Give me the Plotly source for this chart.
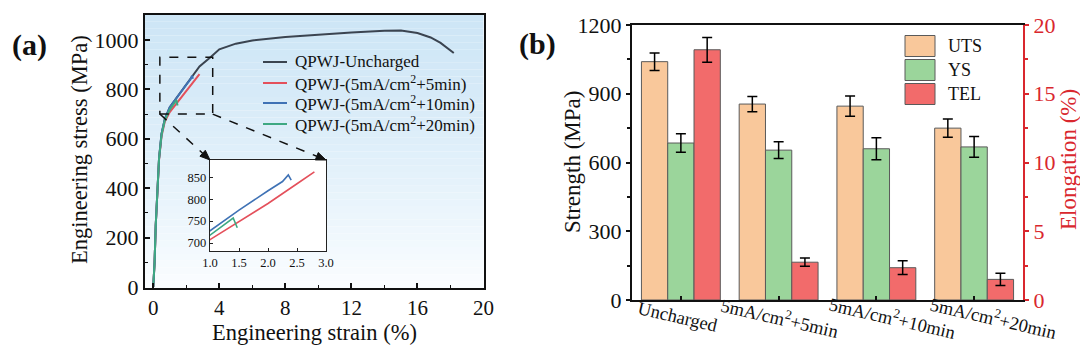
import math
import plotly.graph_objects as go

# ---------------- Panel (a) data: engineering stress-strain ----------------
strain_unch = [0, 0.08, 0.15, 0.25, 0.35, 0.5, 0.7, 1.0, 1.5, 2.0, 2.4, 2.8, 3.5, 4.0,
               5.0, 6.0, 8.0, 10.0, 12.0, 14.0, 15.0, 16.0, 16.8, 17.4, 18.2]
stress_unch = [0, 100, 250, 400, 520, 620, 680, 728, 775, 820, 858, 893, 932, 962,
               985, 998, 1012, 1022, 1030, 1037, 1038, 1028, 1010, 988, 947]

strain_5min = [0, 0.08, 0.15, 0.25, 0.35, 0.5, 0.7, 1.0, 1.5, 2.0, 2.5, 2.8]
stress_5min = [0, 100, 250, 400, 515, 610, 670, 708, 750, 790, 835, 862]

strain_10min = [0, 0.08, 0.15, 0.25, 0.35, 0.5, 0.7, 1.0, 1.5, 2.0, 2.25, 2.35, 2.4]
stress_10min = [0, 100, 250, 400, 520, 620, 680, 728, 775, 819, 840, 855, 843]

strain_20min = [0, 0.08, 0.15, 0.25, 0.35, 0.5, 0.7, 1.0, 1.2, 1.4, 1.47]
stress_20min = [0, 100, 250, 400, 520, 615, 675, 718, 738, 757, 735]

legend_a = ["QPWJ-Uncharged", "QPWJ-(5mA/cm<sup>2</sup>+5min)",
            "QPWJ-(5mA/cm<sup>2</sup>+10min)", "QPWJ-(5mA/cm<sup>2</sup>+20min)"]
colors_a = ["#3b4450", "#e4505b", "#3f72b5", "#3ea882"]

# ---------------- Panel (b) data: strength / elongation ----------------
categories = ["Uncharged", "5mA/cm<sup>2</sup>+5min",
              "5mA/cm<sup>2</sup>+10min", "5mA/cm<sup>2</sup>+20min"]
uts = [1040, 855, 846, 750]
uts_err = [38, 33, 44, 40]
ys = [685, 654, 660, 668]
ys_err = [40, 37, 48, 45]
tel = [18.2, 2.75, 2.35, 1.5]
tel_err = [0.9, 0.3, 0.5, 0.45]

W, H = 1080, 346
def px(v): return v / W
def py(v): return 1 - v / H

FONT = "Liberation Serif, Times New Roman, serif"
RED = "#d9272e"
INK = "#111"

# domains
ax_a = [px(145), px(483.5)]
ay_a = [py(288), py(15)]
xr_a = [-0.5, 20]
yr_a = [-4, 1101]
ax_in = [px(210), px(326)]
ay_in = [py(251), py(160)]
ax_b = [px(632), px(1023)]
ay_b = [py(300), py(25)]

fig = go.Figure()

series = [(strain_unch, stress_unch), (strain_5min, stress_5min),
          (strain_10min, stress_10min), (strain_20min, stress_20min)]
for (sx, sy), col in zip(series, colors_a):
    fig.add_trace(go.Scatter(x=sx, y=sy, mode="lines", line=dict(color=col, width=2),
                             xaxis="x", yaxis="y", showlegend=False))
for (sx, sy), col in list(zip(series, colors_a))[1:]:
    fig.add_trace(go.Scatter(x=sx, y=sy, mode="lines", line=dict(color=col, width=1.6),
                             xaxis="x2", yaxis="y2", showlegend=False))

# panel (b) bars
bw = 0.269
bar_line = dict(color="#5a5a5a", width=1)
err = dict(type="data", color="black", thickness=1.5, width=5)
fig.add_trace(go.Bar(x=categories, y=uts, width=bw, offset=-1.5 * bw,
                     marker=dict(color="#f9c89b", line=bar_line),
                     error_y=dict(err, array=uts_err),
                     xaxis="x3", yaxis="y3", showlegend=False))
fig.add_trace(go.Bar(x=categories, y=ys, width=bw, offset=-0.5 * bw,
                     marker=dict(color="#9bd59b", line=bar_line),
                     error_y=dict(err, array=ys_err),
                     xaxis="x3", yaxis="y3", showlegend=False))
fig.add_trace(go.Bar(x=categories, y=tel, width=bw, offset=0.5 * bw,
                     marker=dict(color="#f26b6b", line=bar_line),
                     error_y=dict(err, array=tel_err),
                     xaxis="x3", yaxis="y4", showlegend=False))

shapes = []
annotations = []

# gradient backgrounds (panel a and inset)
def gradient(xref, yref, top, bottom, n=40):
    for i in range(n):
        t = i / (n - 1)
        t2 = t ** 1.3
        c = [round(top[k] + (bottom[k] - top[k]) * t2) for k in range(3)]
        shapes.append(dict(type="rect", xref=xref, yref=yref, x0=0, x1=1,
                           y0=1 - (i + 1) / n, y1=1 - i / n, layer="below",
                           line=dict(width=0), fillcolor=f"rgb({c[0]},{c[1]},{c[2]})"))

gradient("x domain", "y domain", (206, 230, 246), (250, 253, 255))
gradient("x2 domain", "y2 domain", (210, 232, 247), (252, 254, 255), n=20)

# dashed zoom box
box = dict(x0=0.4, x1=3.6, y0=700, y1=930)
shapes.append(dict(type="rect", xref="x", yref="y", **box,
                   line=dict(color=INK, width=1.5, dash="dash")))

def to_paper(x, y):
    X = ax_a[0] + (x - xr_a[0]) / (xr_a[1] - xr_a[0]) * (ax_a[1] - ax_a[0])
    Y = ay_a[0] + (y - yr_a[0]) / (yr_a[1] - yr_a[0]) * (ay_a[1] - ay_a[0])
    return X, Y

# dashed connector arrows from zoom box to inset
for (bx, by), (ix, iy) in [((box["x0"], box["y0"]), (ax_in[0], ay_in[1])),
                           ((box["x1"], box["y0"]), (ax_in[1], ay_in[1]))]:
    X0, Y0 = to_paper(bx, by)
    # work in pixel space (y downwards)
    sx, sy = X0 * W, (1 - Y0) * H
    ex, ey = ix * W, (1 - iy) * H
    L = math.hypot(ex - sx, ey - sy)
    ux, uy = (ex - sx) / L, (ey - sy) / L
    hl, hw = 10, 4
    bxp, byp = ex - ux * hl, ey - uy * hl
    shapes.append(dict(type="line", xref="paper", yref="paper",
                       x0=px(sx), y0=py(sy), x1=px(bxp), y1=py(byp),
                       line=dict(color=INK, width=1.5, dash="dash")))
    p1 = (bxp - uy * hw, byp + ux * hw)
    p2 = (bxp + uy * hw, byp - ux * hw)
    path = (f"M {px(ex)} {py(ey)} L {px(p1[0])} {py(p1[1])} "
            f"L {px(p2[0])} {py(p2[1])} Z")
    shapes.append(dict(type="path", xref="paper", yref="paper", path=path,
                       fillcolor=INK, line=dict(color=INK, width=1)))

# legend (a)
leg_y = [62, 83, 103, 124]
for lab, col, yy in zip(legend_a, colors_a, leg_y):
    shapes.append(dict(type="line", xref="paper", yref="paper", x0=px(263), x1=px(287),
                       y0=py(yy), y1=py(yy), line=dict(color=col, width=2)))
    annotations.append(dict(x=px(293), y=py(yy), xref="paper", yref="paper", text=lab,
                            showarrow=False, xanchor="left", yanchor="middle",
                            font=dict(size=17, family=FONT, color=INK)))

# legend (b)
leg_b = [("UTS", "#f9c89b", 46), ("YS", "#9bd59b", 70), ("TEL", "#f26b6b", 94)]
for lab, col, yy in leg_b:
    shapes.append(dict(type="rect", xref="paper", yref="paper", x0=px(905), x1=px(935),
                       y0=py(yy + 10.5), y1=py(yy - 10.5), fillcolor=col,
                       line=dict(color="#5a5a5a", width=1)))
    annotations.append(dict(x=px(946), y=py(yy), xref="paper", yref="paper", text=lab,
                            showarrow=False, xanchor="left", yanchor="middle",
                            font=dict(size=18, family=FONT, color=INK)))

# rotated category labels (b)
label_shift = [-3, 1, 16, 19]
for i, c in enumerate(categories):
    annotations.append(dict(x=i, y=py(317), xref="x3", yref="paper", text=c, showarrow=False,
                            textangle=13, xanchor="center", yanchor="middle",
                            xshift=label_shift[i],
                            font=dict(size=18.5, family=FONT, color=INK)))

def label(x, y, text, size, angle=0, color=INK):
    return dict(x=px(x), y=py(y), xref="paper", yref="paper", text=text, showarrow=False,
                textangle=angle, xanchor="center", yanchor="middle",
                font=dict(size=size, family=FONT, color=color))

annotations += [
    label(29, 45, "<b>(a)</b>", 30),
    label(537, 44, "<b>(b)</b>", 30),
    label(80, 150, "Engineering stress (MPa)", 22.5, -90),
    label(314, 332, "Engineering strain (%)", 22.5),
    label(572, 162, "Strength (MPa)", 23, -90),
    label(1068, 160, "Elongation (%)", 23, -90, RED),
]

tick_font = dict(size=22, family=FONT, color=INK)

fig.update_layout(
    width=W, height=H, margin=dict(l=0, r=0, t=0, b=0, pad=0, autoexpand=False),
    paper_bgcolor="white", plot_bgcolor="white",
    font=dict(family=FONT, color=INK),
    barmode="overlay",
    xaxis=dict(domain=ax_a, range=xr_a, anchor="y", tickmode="linear", tick0=0, dtick=4,
               ticks="inside", ticklen=5, tickwidth=1.5, tickcolor=INK, automargin=False,
               minor=dict(ticks="inside", ticklen=3, tickwidth=1.2, dtick=2, tick0=0),
               showline=True, linewidth=2, linecolor=INK, mirror=True,
               showgrid=False, zeroline=False, tickfont=dict(size=21, family=FONT, color=INK)),
    yaxis=dict(domain=ay_a, range=yr_a, anchor="x", tickmode="linear", tick0=0, dtick=200,
               ticks="inside", ticklen=5, tickwidth=1.5, tickcolor=INK, automargin=False,
               minor=dict(ticks="inside", ticklen=3, tickwidth=1.2, dtick=100, tick0=0),
               showline=True, linewidth=2, linecolor=INK, mirror=True,
               showgrid=False, zeroline=False, tickfont=tick_font),
    xaxis2=dict(domain=ax_in, range=[1.0, 3.0], anchor="y2", tickvals=[1.0, 1.5, 2.0, 2.5, 3.0],
                tickformat=".1f", ticks="inside", ticklen=3, tickcolor="#222", automargin=False,
                showline=True, linewidth=1.3, linecolor="#222", mirror=True,
                showgrid=False, zeroline=False,
                tickfont=dict(size=12.5, family=FONT, color=INK)),
    yaxis2=dict(domain=ay_in, range=[682, 889], anchor="x2", tickvals=[700, 750, 800, 850],
                ticks="inside", ticklen=3, tickcolor="#222", automargin=False,
                showline=True, linewidth=1.3, linecolor="#222", mirror=True,
                showgrid=False, zeroline=False,
                tickfont=dict(size=12.5, family=FONT, color=INK)),
    xaxis3=dict(domain=ax_b, range=[-0.5, 3.5], anchor="y3", type="category", automargin=False,
                showticklabels=False, ticks="inside", ticklen=4, tickwidth=1.5, tickcolor=INK,
                showline=True, linewidth=2, linecolor=INK, mirror=True,
                showgrid=False, zeroline=False),
    yaxis3=dict(domain=ay_b, range=[0, 1200], anchor="x3", tickmode="linear", tick0=0, dtick=300,
                ticks="outside", ticklen=4, tickwidth=1.5, tickcolor=INK, automargin=False,
                minor=dict(ticks="outside", ticklen=3, dtick=150, tick0=0),
                showline=True, linewidth=2, linecolor=INK,
                showgrid=False, zeroline=False, tickfont=tick_font),
    yaxis4=dict(range=[0, 20], overlaying="y3", side="right", anchor="x3",
                tickmode="linear", tick0=0, dtick=5, automargin=False,
                ticks="outside", ticklen=4, tickwidth=1.5, tickcolor=RED,
                minor=dict(ticks="outside", ticklen=3, dtick=2.5, tick0=0, tickcolor=RED),
                showline=True, linewidth=2, linecolor=RED,
                showgrid=False, zeroline=False,
                tickfont=dict(size=22, family=FONT, color=RED)),
    shapes=shapes, annotations=annotations,
)

fig.write_html("out.html")
